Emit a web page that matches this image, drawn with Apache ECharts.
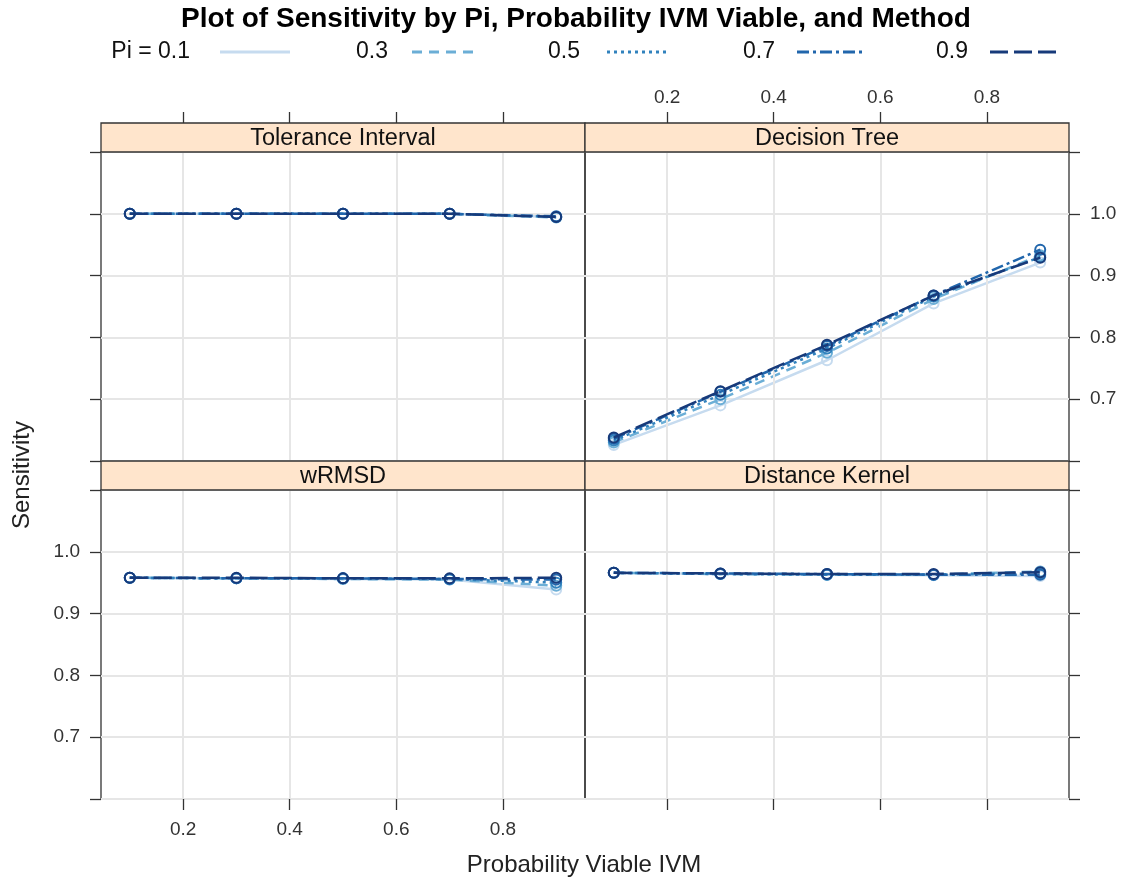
<!DOCTYPE html>
<html>
<head>
<meta charset="utf-8">
<script src="https://cdn.jsdelivr.net/npm/echarts@6/dist/echarts.min.js"></script>
<style>
  html, body { margin: 0; padding: 0; background: #ffffff; }
  #chart { width: 1124px; height: 882px; }
</style>
</head>
<body>
<div id="chart"></div>
<script>
// ---------------- DATA ----------------
var titleText = 'Plot of Sensitivity by Pi, Probability IVM Viable, and Method';
var xAxisTitle = 'Probability Viable IVM';
var yAxisTitle = 'Sensitivity';
var piLevels = ['0.1', '0.3', '0.5', '0.7', '0.9'];
var probViable = [0.1, 0.3, 0.5, 0.7, 0.9];
var methods = ['Tolerance Interval', 'Decision Tree', 'wRMSD', 'Distance Kernel'];
var xTickValues = [0.2, 0.4, 0.6, 0.8];
var yTickLabelValues = [0.7, 0.8, 0.9, 1.0];

// sensitivity, one array per Pi level, per method (x = probViable)
var toleranceInterval = [
  [1.000, 1.000, 1.000, 1.000, 0.995],
  [1.000, 1.000, 1.000, 1.000, 0.994],
  [1.000, 1.000, 1.000, 1.000, 0.995],
  [1.000, 1.000, 1.000, 1.000, 0.996],
  [1.000, 1.000, 1.000, 1.000, 0.995]
];
var decisionTree = [
  [0.626, 0.690, 0.763, 0.855, 0.921],
  [0.630, 0.700, 0.775, 0.862, 0.933],
  [0.633, 0.707, 0.782, 0.866, 0.930],
  [0.636, 0.712, 0.786, 0.868, 0.942],
  [0.638, 0.713, 0.788, 0.868, 0.929]
];
var wRMSD = [
  [0.958, 0.957, 0.956, 0.955, 0.939],
  [0.958, 0.957, 0.956, 0.955, 0.945],
  [0.958, 0.957, 0.957, 0.956, 0.950],
  [0.958, 0.957, 0.957, 0.956, 0.955],
  [0.958, 0.958, 0.957, 0.957, 0.958]
];
var distanceKernel = [
  [0.966, 0.964, 0.963, 0.962, 0.961],
  [0.966, 0.964, 0.963, 0.963, 0.968],
  [0.966, 0.964, 0.963, 0.963, 0.965],
  [0.966, 0.965, 0.964, 0.963, 0.963],
  [0.966, 0.965, 0.964, 0.964, 0.967]
];
var methodData = [toleranceInterval, decisionTree, wRMSD, distanceKernel];

// ---------------- STYLE / LAYOUT ----------------
var FONT = '"Liberation Sans", Arial, Helvetica, sans-serif';
var piColors = ['#c6dbef', '#6baed6', '#3182bd', '#2166ac', '#173a7a'];
var piDash = ['solid', [10, 7], [3, 4], [12, 4, 3, 4], [18, 6]];
var X_MIN = 0.046, X_MAX = 0.954, Y_MIN = 0.6, Y_MAX = 1.1;
var STRIP_H = 29;
var panels = [
  { left: 101, top: 152, col: 0, row: 0 },
  { left: 585, top: 152, col: 1, row: 0 },
  { left: 101, top: 490, col: 0, row: 1 },
  { left: 585, top: 490, col: 1, row: 1 }
];
var PW = 484, PH = 309;
var tickColor = '#333333';
var labelStyle = { color: '#333333', fontFamily: FONT, fontSize: 19 };
var gridLineColor = '#e6e6e6';

var grids = [], xAxes = [], yAxes = [], series = [], graphics = [];

panels.forEach(function (p, i) {
  grids.push({ left: p.left, top: p.top, width: PW, height: PH, show: true,
    borderColor: '#333333', borderWidth: 1.3, backgroundColor: 'transparent', containLabel: false });

  var isBottomRow = p.row === 1;
  var mainXIdx = xAxes.length;
  xAxes.push({
    type: 'value', gridIndex: i, position: 'bottom', min: X_MIN, max: X_MAX,
    axisLine: { show: false },
    axisTick: { show: isBottomRow, inside: false, length: 11, customValues: xTickValues,
      lineStyle: { color: tickColor, width: 1.3 } },
    axisLabel: { show: isBottomRow && p.col === 0, customValues: xTickValues, margin: 21,
      formatter: function (v) { return v.toFixed(1); }, color: labelStyle.color,
      fontFamily: FONT, fontSize: labelStyle.fontSize },
    splitLine: { show: false }
  });
  if (p.row === 0) {
    xAxes.push({
      type: 'value', gridIndex: i, position: 'top', offset: STRIP_H, min: X_MIN, max: X_MAX,
      axisLine: { show: false },
      axisTick: { show: true, inside: false, length: 11, customValues: xTickValues,
        lineStyle: { color: tickColor, width: 1.3 } },
      axisLabel: { show: p.col === 1, customValues: xTickValues, margin: 16,
        formatter: function (v) { return v.toFixed(1); }, color: labelStyle.color,
        fontFamily: FONT, fontSize: labelStyle.fontSize },
      splitLine: { show: false }
    });
  }
  var yIdx = yAxes.length;
  yAxes.push({
    type: 'value', gridIndex: i, position: p.col === 0 ? 'left' : 'right',
    min: Y_MIN, max: Y_MAX, interval: 0.1,
    axisLine: { show: false },
    axisTick: { show: true, inside: false, length: 11, lineStyle: { color: tickColor, width: 1.3 } },
    axisLabel: {
      show: (p.col === 0 && p.row === 1) || (p.col === 1 && p.row === 0),
      margin: 21, color: labelStyle.color, fontFamily: FONT, fontSize: labelStyle.fontSize,
      formatter: function (v) {
        for (var k = 0; k < yTickLabelValues.length; k++) {
          if (Math.abs(v - yTickLabelValues[k]) < 1e-6) return yTickLabelValues[k].toFixed(1);
        }
        return '';
      }
    },
    splitLine: { show: true, lineStyle: { color: gridLineColor, width: 2 } }
  });

  series.push({
    type: 'line', xAxisIndex: mainXIdx, yAxisIndex: yIdx, data: [], silent: true, z: 1,
    markLine: {
      silent: true, symbol: ['none', 'none'], label: { show: false },
      lineStyle: { color: gridLineColor, width: 2, type: 'solid' },
      emphasis: { disabled: true },
      data: xTickValues.map(function (v) { return { xAxis: v }; })
    }
  });

  var dataSet = methodData[i];
  piLevels.forEach(function (pi, k) {
    series.push({
      name: 'Pi = ' + pi, type: 'line', xAxisIndex: mainXIdx, yAxisIndex: yIdx, z: 3 + k,
      data: probViable.map(function (x, j) { return [x, dataSet[k][j]]; }),
      symbol: 'circle', symbolSize: 10, showSymbol: true,
      itemStyle: { color: 'rgba(255,255,255,0)', borderColor: piColors[k], borderWidth: 2, opacity: 1 },
      lineStyle: { color: piColors[k], width: 2.5, type: piDash[k] },
      emphasis: { disabled: true }, silent: true, animation: false
    });
  });

  graphics.push({
    type: 'rect', shape: { x: p.left, y: p.top - STRIP_H, width: PW, height: STRIP_H },
    style: { fill: '#ffe5cc', stroke: '#333333', lineWidth: 1.3 }, z: 10, silent: true
  });
  graphics.push({
    type: 'text', x: p.left + PW / 2, y: p.top - STRIP_H / 2 + 1,
    style: { text: methods[i], fill: '#111111', font: '23.5px ' + FONT, textAlign: 'center', textVerticalAlign: 'middle' },
    z: 11, silent: true
  });
});

graphics.push({ type: 'text', x: 576, y: 19, silent: true,
  style: { text: titleText, fill: '#000000', font: 'bold 28px ' + FONT, textAlign: 'center', textVerticalAlign: 'middle' } });
graphics.push({ type: 'text', x: 584, y: 865, silent: true,
  style: { text: xAxisTitle, fill: '#222222', font: '24px ' + FONT, textAlign: 'center', textVerticalAlign: 'middle' } });
graphics.push({ type: 'text', x: 22, y: 475, rotation: Math.PI / 2, silent: true,
  style: { text: yAxisTitle, fill: '#222222', font: '24px ' + FONT, textAlign: 'center', textVerticalAlign: 'middle' } });

var legendTextRight = [190, 388, 580, 775, 968];
var legendLineX = [[220, 290], [412, 475], [607, 670], [797, 866], [990, 1057]];
var LEGEND_Y = 52;
piLevels.forEach(function (pi, k) {
  graphics.push({ type: 'text', x: legendTextRight[k], y: LEGEND_Y, silent: true,
    style: { text: (k === 0 ? 'Pi = ' : '') + pi, fill: '#111111', font: '23px ' + FONT,
      textAlign: 'right', textVerticalAlign: 'middle' } });
  graphics.push({ type: 'line', silent: true,
    shape: { x1: legendLineX[k][0], y1: LEGEND_Y, x2: legendLineX[k][1], y2: LEGEND_Y },
    style: { stroke: piColors[k], lineWidth: 3, lineDash: piDash[k] === 'solid' ? null : piDash[k] } });
});

var chart = echarts.init(document.getElementById('chart'), null, { renderer: 'canvas' });
chart.setOption({
  backgroundColor: '#ffffff',
  animation: false,
  textStyle: { fontFamily: FONT },
  grid: grids,
  xAxis: xAxes,
  yAxis: yAxes,
  series: series,
  graphic: { elements: graphics }
});
</script>
</body>
</html>
